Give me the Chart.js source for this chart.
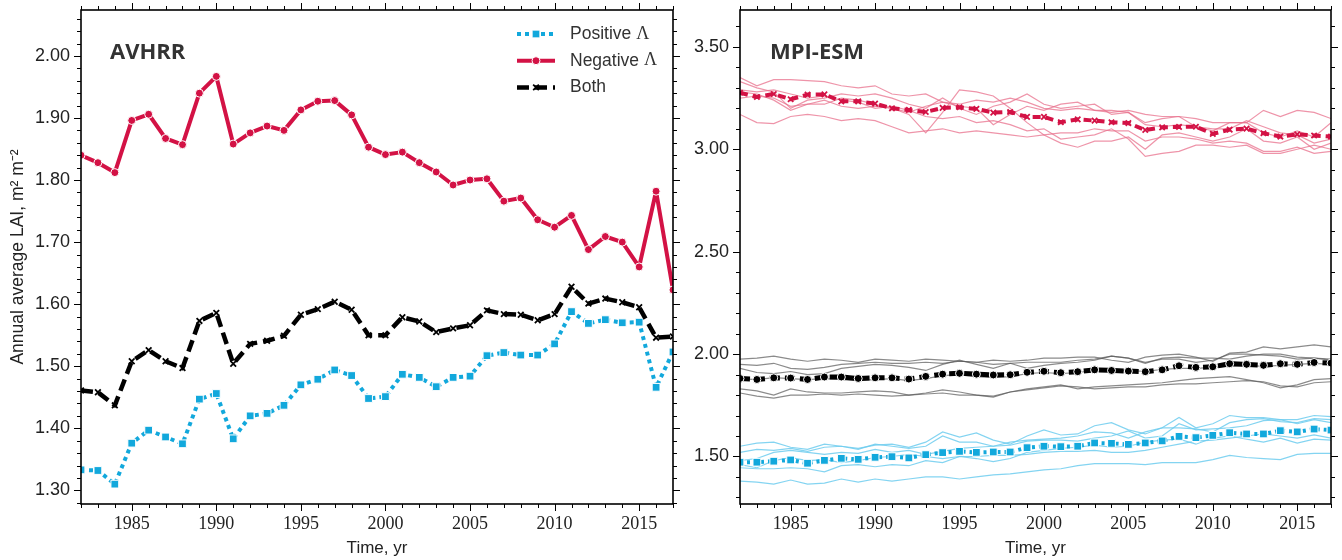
<!DOCTYPE html>
<html><head><meta charset="utf-8">
<script src="https://cdn.jsdelivr.net/npm/chart.js@4.4.0/dist/chart.umd.min.js"></script>
<style>
html,body{margin:0;padding:0;background:#fff;}
#wrap{position:relative;width:1342px;height:560px;}
.box{position:absolute;top:0;height:560px;}
#left{left:0;width:680px;} #right{left:680px;width:662px;}
</style></head><body>
<div id="wrap"><div class="box" id="left"><canvas id="c1" width="680" height="560"></canvas></div><div class="box" id="right"><canvas id="c2" width="662" height="560"></canvas></div></div>
<script>
const years=[1982,1983,1984,1985,1986,1987,1988,1989,1990,1991,1992,1993,1994,1995,1996,1997,1998,1999,2000,2001,2002,2003,2004,2005,2006,2007,2008,2009,2010,2011,2012,2013,2014,2015,2016,2017];
const xTickYears=[1985,1990,1995,2000,2005,2010,2015];
const avhrrTicks=[1.30,1.40,1.50,1.60,1.70,1.80,1.90,2.00];
const mpiTicks=[1.50,2.00,2.50,3.00,3.50];

// AVHRR
const avhrrPos=[1.333,1.332,1.310,1.376,1.397,1.386,1.375,1.447,1.456,1.383, 1.420,1.424,1.437,1.470,1.479,1.494,1.485,1.448,1.451,1.487, 1.482,1.467,1.482,1.484,1.517,1.522,1.518,1.518,1.536,1.588, 1.569,1.575,1.570,1.571,1.466,1.523];
const avhrrNeg=[1.840,1.828,1.812,1.896,1.906,1.867,1.857,1.940,1.967,1.858, 1.876,1.887,1.880,1.913,1.927,1.928,1.905,1.853,1.841,1.845, 1.828,1.813,1.792,1.800,1.802,1.766,1.771,1.736,1.724,1.743, 1.688,1.709,1.700,1.660,1.782,1.623];
const avhrrBoth=[1.461,1.458,1.437,1.508,1.526,1.508,1.497,1.573,1.586,1.504, 1.536,1.541,1.549,1.583,1.592,1.604,1.591,1.550,1.550,1.579, 1.572,1.555,1.561,1.566,1.590,1.584,1.583,1.574,1.584,1.628, 1.601,1.609,1.603,1.595,1.546,1.548];

// MPI-ESM ensemble means
const mpiNegMean=[3.276,3.255,3.270,3.244,3.267,3.268,3.234,3.234,3.223,3.200, 3.192,3.182,3.202,3.205,3.197,3.179,3.182,3.158,3.158,3.132, 3.146,3.140,3.132,3.128,3.094,3.107,3.109,3.110,3.075,3.096, 3.101,3.078,3.062,3.073,3.067,3.062];
const mpiBothMean=[1.881,1.876,1.884,1.883,1.876,1.888,1.888,1.881,1.884,1.884, 1.878,1.891,1.902,1.906,1.902,1.898,1.899,1.911,1.916,1.909, 1.914,1.923,1.920,1.917,1.914,1.923,1.943,1.935,1.938,1.953, 1.950,1.945,1.953,1.950,1.959,1.956];
const mpiPosMean=[1.472,1.472,1.477,1.483,1.467,1.481,1.491,1.486,1.496,1.499, 1.493,1.509,1.519,1.525,1.520,1.522,1.522,1.543,1.550,1.548, 1.550,1.566,1.564,1.559,1.566,1.576,1.598,1.592,1.603,1.616, 1.610,1.610,1.626,1.620,1.634,1.629];

// MPI-ESM members
const mpiNegRuns=[
 [3.35,3.31,3.34,3.34,3.335,3.33,3.31,3.30,3.31,3.27, 3.26,3.27,3.23,3.22,3.24,3.23,3.25,3.23,3.20,3.19, 3.20,3.19,3.18,3.19,3.17,3.16,3.16,3.15,3.13,3.13, 3.13,3.19,3.16,3.19,3.18,3.15],
 [3.33,3.30,3.28,3.20,3.24,3.25,3.27,3.26,3.27,3.25, 3.22,3.20,3.25,3.20,3.17,3.21,3.23,3.27,3.22,3.20, 3.21,3.22,3.17,3.18,3.13,3.15,3.16,3.11,3.09,3.13, 3.13,3.08,3.06,3.09,3.06,3.13],
 [3.28,3.27,3.24,3.19,3.22,3.24,3.21,3.20,3.21,3.20, 3.17,3.08,3.18,3.29,3.28,3.26,3.20,3.13,3.07,3.03, 3.01,3.04,3.04,3.06,3.00,3.07,3.08,3.06,3.04,3.06, 3.10,3.04,3.03,3.06,3.00,3.03],
 [3.17,3.13,3.125,3.16,3.17,3.16,3.14,3.15,3.14,3.11, 3.08,3.09,3.10,3.08,3.09,3.08,3.07,3.06,3.07,3.08, 3.08,3.10,3.09,3.09,3.04,3.06,3.06,3.05,3.03,3.04, 3.03,2.99,2.99,3.01,2.98,2.99],
 [3.25,3.26,3.25,3.21,3.22,3.22,3.25,3.24,3.22,3.20, 3.18,3.21,3.23,3.21,3.20,3.12,3.17,3.21,3.19,3.22, 3.23,3.19,3.19,3.18,3.12,3.11,3.12,3.11,3.10,3.10, 3.14,3.11,3.08,3.07,3.03,3.05],
 [3.29,3.28,3.29,3.27,3.25,3.26,3.24,3.23,3.20,3.21, 3.19,3.16,3.15,3.16,3.13,3.14,3.12,3.09,3.10,3.05, 3.06,3.07,3.10,3.05,2.965,2.98,2.99,3.02,3.02,3.01, 3.02,2.98,2.98,3.00,3.02,3.00]
];
const mpiBothRuns=[
 [1.975,1.98,1.99,1.975,1.965,1.975,1.97,1.96,1.975,1.97, 1.965,1.975,1.97,1.965,1.96,1.97,1.965,1.97,1.98,1.98, 1.985,1.985,1.97,1.96,1.985,1.995,2.00,1.985,1.965,2.005, 2.01,2.035,2.025,2.035,2.045,2.035],
 [1.95,1.945,1.955,1.93,1.925,1.935,1.95,1.955,1.96,1.955, 1.955,1.96,1.955,1.965,1.96,1.95,1.955,1.96,1.96,1.96, 1.97,1.975,1.99,1.98,1.955,1.98,1.985,1.98,1.98,1.975, 1.99,2.00,2.00,1.985,1.98,1.97],
 [1.93,1.91,1.905,1.915,1.90,1.905,1.93,1.94,1.95,1.945, 1.935,1.92,1.95,1.97,1.95,1.93,1.955,1.93,1.945,1.955, 1.96,1.97,1.99,1.98,1.96,1.975,1.975,1.96,1.97,2.00, 2.00,1.995,1.99,1.975,1.98,1.975],
 [1.88,1.875,1.885,1.88,1.875,1.88,1.875,1.87,1.875,1.88, 1.87,1.88,1.895,1.90,1.89,1.885,1.89,1.905,1.91,1.905, 1.91,1.92,1.915,1.92,1.915,1.925,1.93,1.93,1.935,1.94, 1.945,1.94,1.945,1.95,1.955,1.95],
 [1.83,1.82,1.80,1.83,1.815,1.81,1.81,1.815,1.82,1.815, 1.80,1.81,1.825,1.815,1.80,1.79,1.815,1.83,1.84,1.85, 1.83,1.84,1.845,1.85,1.855,1.86,1.87,1.88,1.885,1.89, 1.875,1.86,1.835,1.85,1.875,1.88],
 [1.81,1.795,1.785,1.80,1.80,1.805,1.80,1.805,1.80,1.795, 1.80,1.805,1.81,1.80,1.80,1.795,1.815,1.825,1.835,1.845, 1.84,1.83,1.835,1.84,1.84,1.85,1.855,1.855,1.86,1.865, 1.87,1.865,1.845,1.84,1.86,1.865]
];
const mpiPosRuns=[
 [1.55,1.565,1.57,1.545,1.535,1.56,1.55,1.54,1.555,1.56, 1.545,1.57,1.62,1.595,1.615,1.58,1.56,1.60,1.63,1.605, 1.61,1.65,1.665,1.63,1.61,1.64,1.69,1.64,1.66,1.70, 1.69,1.69,1.68,1.68,1.70,1.695],
 [1.52,1.535,1.53,1.54,1.525,1.545,1.55,1.535,1.56,1.55, 1.54,1.55,1.60,1.57,1.57,1.55,1.57,1.58,1.585,1.59, 1.60,1.62,1.615,1.59,1.62,1.64,1.64,1.635,1.62,1.665, 1.68,1.685,1.67,1.665,1.685,1.68],
 [1.48,1.49,1.52,1.53,1.52,1.51,1.52,1.515,1.535,1.52, 1.53,1.51,1.525,1.54,1.545,1.55,1.555,1.575,1.58,1.58, 1.575,1.59,1.60,1.625,1.59,1.60,1.66,1.63,1.635,1.64, 1.65,1.675,1.68,1.66,1.68,1.665],
 [1.46,1.445,1.48,1.495,1.48,1.485,1.47,1.48,1.495,1.50, 1.51,1.50,1.49,1.50,1.49,1.475,1.49,1.52,1.53,1.54, 1.545,1.555,1.545,1.55,1.57,1.58,1.585,1.56,1.59,1.60, 1.585,1.57,1.59,1.565,1.585,1.58],
 [1.445,1.44,1.44,1.445,1.44,1.425,1.455,1.46,1.45,1.46, 1.455,1.48,1.47,1.50,1.50,1.505,1.505,1.51,1.52,1.525, 1.525,1.53,1.52,1.52,1.53,1.545,1.56,1.575,1.58,1.59, 1.60,1.61,1.60,1.59,1.605,1.59],
 [1.38,1.375,1.365,1.385,1.365,1.37,1.39,1.375,1.39,1.38, 1.39,1.40,1.40,1.39,1.40,1.41,1.415,1.425,1.435,1.44, 1.455,1.465,1.465,1.465,1.46,1.47,1.47,1.47,1.485,1.505, 1.495,1.49,1.485,1.51,1.515,1.515]
];

const RED='#d31245', BLUE='#12a8dc', BLK='#000';
const pts=a=>years.map((yr,i)=>({x:yr,y:a[i]}));

function series(label,a,color,style,r,dash,w){
  const cross=style==='crossRot';
  return {label,data:pts(a),borderColor:color,backgroundColor:color,borderWidth:w,borderDash:dash,borderJoinStyle:'round',
    pointStyle:style,pointRadius:r,pointHoverRadius:r,pointBackgroundColor:color,
    pointBorderColor:cross?color:'#fff',pointBorderWidth:cross?1.8:1,order:0,tension:0};
}
function run(a,color){return {data:pts(a),borderColor:color,borderWidth:1.2,pointRadius:0,order:5,tension:0};}

function marker(c,style,x,y,r,color){
  c.save(); c.fillStyle=color; c.strokeStyle=style==='crossRot'?color:'#fff'; c.lineWidth=style==='crossRot'?1.8:1; c.beginPath();
  if(style==='circle'){c.arc(x,y,r,0,Math.PI*2); c.fill(); c.stroke();}
  else if(style==='rect'){const s=r*Math.SQRT1_2; c.rect(x-s,y-s,2*s,2*s); c.fill(); c.stroke();}
  else {const s=r*Math.SQRT1_2; c.moveTo(x-s,y-s); c.lineTo(x+s,y+s); c.moveTo(x+s,y-s); c.lineTo(x-s,y+s); c.stroke();}
  c.restore();
}

// frame with outward ticks on all four sides
const framePlugin={id:'frame',afterDraw(ch,args,o){
  const c=ch.ctx, a=ch.chartArea, x=ch.scales.x, y=ch.scales.y;
  c.save(); c.strokeStyle='#000';
  const ln=(x1,y1,x2,y2)=>{c.beginPath(); c.moveTo(x1,y1); c.lineTo(x2,y2); c.stroke();};
  c.lineWidth=1;
  for(let v=Math.ceil(x.min); v<=x.max; v++){
    const p=Math.round(x.getPixelForValue(v))+0.5, L=v%5===0?7:4;
    ln(p,a.bottom,p,a.bottom+L); ln(p,a.top,p,a.top-L);
  }
  for(let k=Math.ceil(y.min/o.minor-1e-9); k<=Math.floor(y.max/o.minor+1e-9); k++){
    const v=k*o.minor, m=Math.abs(v/o.major-Math.round(v/o.major))<1e-6;
    const p=Math.round(y.getPixelForValue(v))+0.5, L=m?7:4;
    ln(a.left,p,a.left-L,p); ln(a.right,p,a.right+L,p);
  }
  c.lineWidth=1.6; c.strokeRect(a.left,a.top,a.right-a.left,a.bottom-a.top);
  c.fillStyle='#333'; c.font='bold 22px "Open Sans", "DejaVu Sans", sans-serif'; c.textBaseline='middle';
  c.fillText(o.title,a.left+o.tx,53);
  c.restore();
}};

const legendItems=[
  {label:'Positive ',sym:'Λ',color:BLUE,dash:[4,4],w:4,style:'rect',r:5.5},
  {label:'Negative ',sym:'Λ',color:RED,dash:[],w:4,style:'circle',r:4},
  {label:'Both',sym:'',color:BLK,dash:[12,6],w:4.5,style:'crossRot',r:4}
];
const legendPlugin={id:'lg',afterDraw(ch){
  const c=ch.ctx, x0=517, len=38, tx=570;
  legendItems.forEach((it,i)=>{
    const y=34+i*26.7;
    c.save(); c.strokeStyle=it.color; c.lineWidth=it.w; c.setLineDash(it.dash);
    c.beginPath(); c.moveTo(x0,y); c.lineTo(x0+len,y); c.stroke(); c.setLineDash([]);
    marker(c,it.style,x0+len/2,y,it.r,it.color);
    c.fillStyle='#333'; c.font='17.5px "Liberation Sans", sans-serif'; c.textBaseline='middle';
    c.fillText(it.label,tx,y);
    const w=c.measureText(it.label).width;
    c.font='18px "Liberation Serif", serif'; c.fillText(it.sym,tx+w,y);
    c.restore();
  });
}};

function opts(yMin,yMax,yTicks,yw,pad,frame,yTitle){
  return {responsive:false,animation:false,
    layout:{padding:pad,autoPadding:false},
    plugins:{legend:{display:false},tooltip:{enabled:false},frame},
    scales:{
      x:{type:'linear',min:1982,max:2017,
        afterBuildTicks:s=>{s.ticks=xTickYears.map(v=>({value:v}));},
        afterFit:s=>{s.height=56; s.paddingLeft=0; s.paddingRight=0;},
        grid:{display:false,drawTicks:false},border:{display:false},
        ticks:{autoSkip:false,maxRotation:0,padding:9,color:'#222',font:{family:'Liberation Serif',size:18},callback:v=>String(v)},
        title:{display:true,text:'Time, yr',color:'#222',font:{family:'Liberation Sans',size:17},padding:{top:0,bottom:1}}},
      y:{min:yMin,max:yMax,
        afterBuildTicks:s=>{s.ticks=yTicks.map(v=>({value:v}));},
        afterFit:s=>{s.width=yw; s.paddingTop=0; s.paddingBottom=0;},
        grid:{display:false,drawTicks:false},border:{display:false},
        ticks:{padding:11,color:'#222',font:{family:'Liberation Sans',size:18},callback:v=>Number(v).toFixed(2)},
        title:{display:!!yTitle,text:yTitle||'',color:'#222',font:{family:'Liberation Sans',size:17.5},padding:{top:8,bottom:0}}}
    }};
}

new Chart(document.getElementById('c1'),{type:'line',
  data:{datasets:[
    series('Negative Λ',avhrrNeg,RED,'circle',4,[],4),
    series('Both',avhrrBoth,BLK,'crossRot',4,[12,6],4.5),
    series('Positive Λ',avhrrPos,BLUE,'rect',5.5,[4,4],4)
  ]},
  options:opts(1.278,2.074,avhrrTicks,81,{top:10,right:7,left:0,bottom:0},{minor:0.02,major:0.1,title:'AVHRR',tx:29},'Annual average LAI, m² m⁻²'),
  plugins:[framePlugin,legendPlugin]});

new Chart(document.getElementById('c2'),{type:'line',
  data:{datasets:[
    series('Negative Λ',mpiNegMean,RED,'crossRot',3.8,[8,5],4),
    series('Both',mpiBothMean,BLK,'circle',4,[10,5],5),
    series('Positive Λ',mpiPosMean,BLUE,'rect',5.5,[3,4],4),
    ...mpiNegRuns.map(a=>run(a,'rgba(232,112,140,0.75)')),
    ...mpiBothRuns.map(a=>run(a,'rgba(90,90,90,0.7)')),
    ...mpiPosRuns.map(a=>run(a,'rgba(110,205,238,0.85)'))
  ]},
  options:opts(1.268,3.68,mpiTicks,60,{top:10,right:11,left:0,bottom:0},{minor:0.1,major:0.5,title:'MPI-ESM',tx:30},''),
  plugins:[framePlugin]});
</script>
</body></html>
